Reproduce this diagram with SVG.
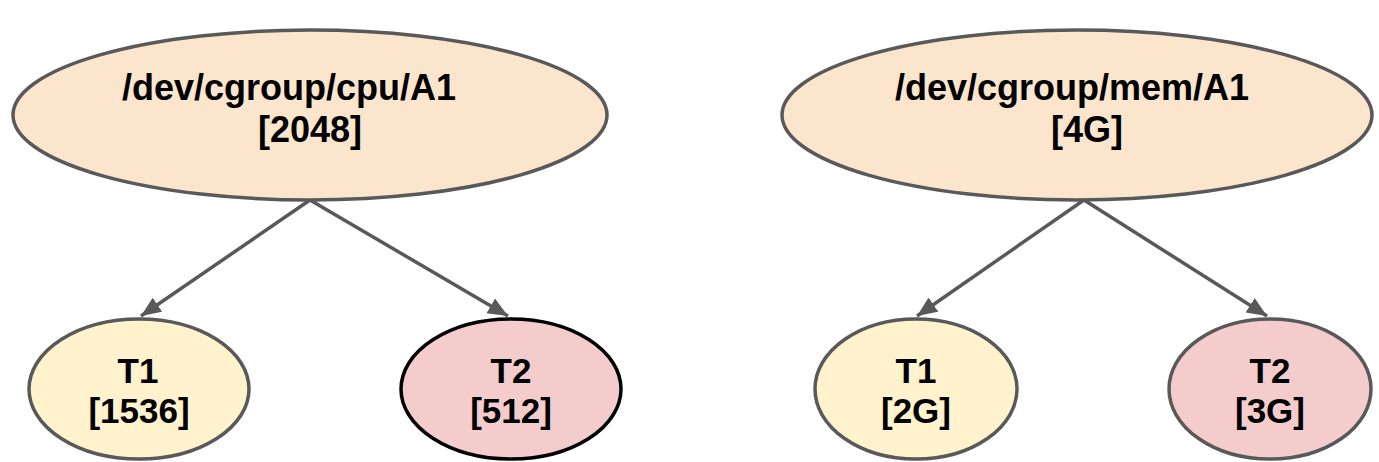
<svg xmlns="http://www.w3.org/2000/svg" width="1379" height="462" viewBox="0 0 1379 462">
<style>
.node{stroke:#595959;stroke-width:3.5}
.parent{fill:#fce5cd}
.t1{fill:#fff2cc}
.t2{fill:#f4cccc}
.dark{stroke:#000000}
.lbl{font-family:"Liberation Sans",Arial,sans-serif;font-weight:bold;fill:#000;text-anchor:middle}
.big{font-size:36px}
.small{font-size:35px}
.edge{stroke:#595959;stroke-width:3.5;fill:none;marker-end:url(#arr)}
</style>
<defs>
<marker id="arr" markerUnits="userSpaceOnUse" markerWidth="22" markerHeight="18" refX="20" refY="8.5" orient="auto">
<path d="M0,0 L20,8.5 L0,17 Z" fill="#595959"/>
</marker>
</defs>
<rect width="1379" height="462" fill="#ffffff"/>
<g id="connectors">
<line class="edge" x1="310" y1="200" x2="141" y2="316"/>
<line class="edge" x1="310" y1="200" x2="508" y2="316"/>
<line class="edge" x1="1084" y1="200" x2="917" y2="316"/>
<line class="edge" x1="1084" y1="200" x2="1267" y2="316"/>
</g>
<g id="cpu-A1">
<ellipse class="node parent" cx="310" cy="115" rx="297" ry="85"/>
<text class="lbl big" x="289" y="100">/dev/cgroup/cpu/A1</text>
<text class="lbl big" x="310" y="142">[2048]</text>
</g>
<g id="cpu-T1">
<ellipse class="node t1" cx="139" cy="389" rx="110" ry="70"/>
<text class="lbl small" x="138" y="383">T1</text>
<text class="lbl small" x="139" y="423">[1536]</text>
</g>
<g id="cpu-T2">
<ellipse class="node t2 dark" cx="511" cy="389" rx="110" ry="70"/>
<text class="lbl small" x="511" y="383">T2</text>
<text class="lbl small" x="511" y="423">[512]</text>
</g>
<g id="mem-A1">
<ellipse class="node parent" cx="1077" cy="115" rx="295" ry="85"/>
<text class="lbl big" x="1072" y="100">/dev/cgroup/mem/A1</text>
<text class="lbl big" x="1087" y="142">[4G]</text>
</g>
<g id="mem-T1">
<ellipse class="node t1" cx="916" cy="389" rx="101" ry="70"/>
<text class="lbl small" x="916" y="383">T1</text>
<text class="lbl small" x="916" y="423">[2G]</text>
</g>
<g id="mem-T2">
<ellipse class="node t2" cx="1270" cy="389" rx="101" ry="70"/>
<text class="lbl small" x="1270" y="383">T2</text>
<text class="lbl small" x="1270" y="423">[3G]</text>
</g>
</svg>
